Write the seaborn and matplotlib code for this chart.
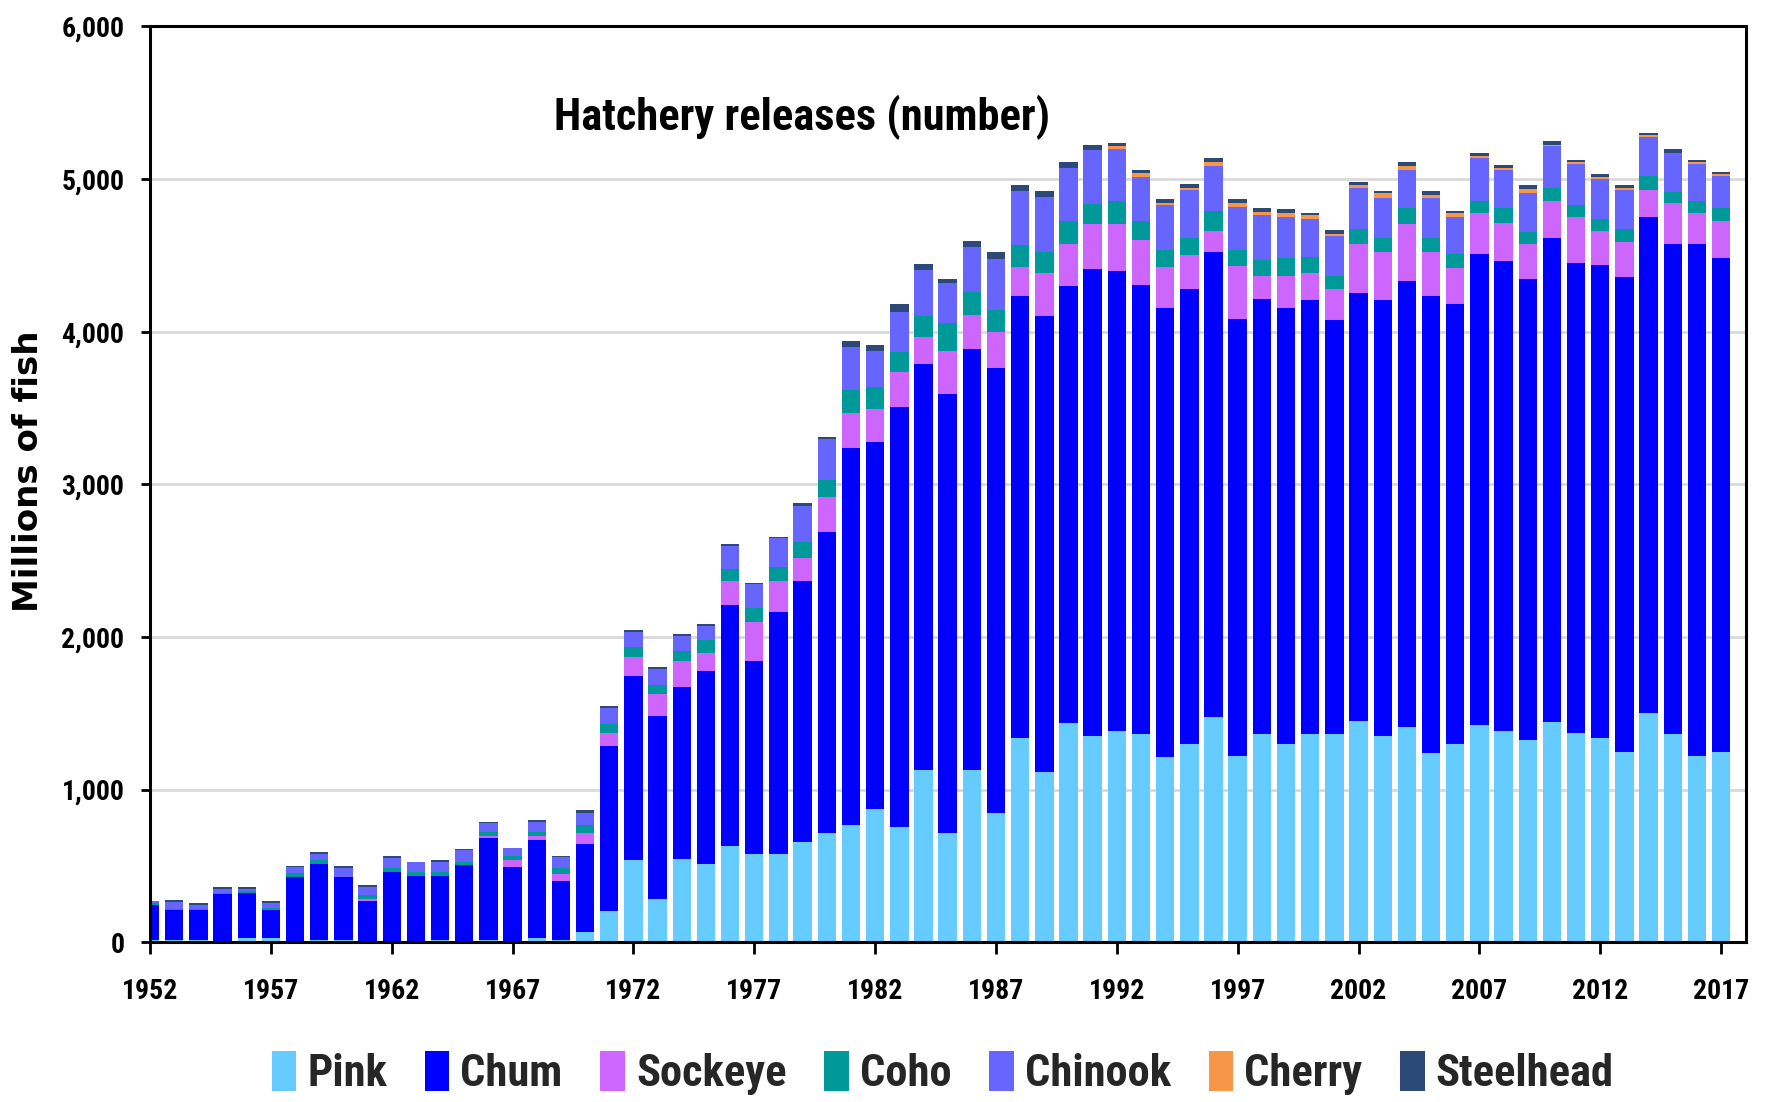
import numpy as np
import pandas as pd
import matplotlib
matplotlib.use("Agg")
import matplotlib.pyplot as plt
import matplotlib.font_manager as fm
from matplotlib.patches import Patch
from matplotlib.ticker import FuncFormatter
import seaborn as sns

years = list(range(1952, 2018))

pink = [15, 15, 15, 3, 28, 28, 3, 15, 15, 0, 3, 0, 15, 0, 15, 0, 28, 15, 66, 206,
        540, 285, 546, 513, 630, 580, 576, 657, 714, 771, 871, 757, 1129, 714, 1129, 848,
        1336, 1117, 1436, 1350, 1387, 1361, 1211, 1297, 1474, 1218, 1361, 1297, 1361, 1361,
        1447, 1350, 1410, 1237, 1297, 1425, 1387, 1323, 1440, 1372, 1335, 1244, 1500, 1361,
        1218, 1244]
chum = [232, 193, 193, 310, 295, 180, 423, 499, 411, 273, 460, 437, 422, 503, 667, 492,
        639, 383, 579, 1077, 1203, 1199, 1129, 1266, 1581, 1263, 1585, 1712, 1973, 2465,
        2409, 2747, 2660, 2881, 2760, 2914, 2898, 2988, 2861, 3060, 3011, 2944, 2943, 2985,
        3049, 2868, 2853, 2857, 2846, 2718, 2805, 2857, 2925, 2996, 2883, 3086, 3075, 3023,
        3173, 3075, 3101, 3113, 3252, 3214, 3357, 3241]
sockeye = [0, 0, 0, 0, 0, 0, 0, 0, 0, 11, 0, 0, 0, 0, 11, 48, 26, 50, 72, 87, 127, 141,
           168, 114, 158, 257, 204, 150, 231, 231, 211, 231, 178, 281, 218, 238, 188, 282,
           278, 293, 305, 297, 267, 218, 139, 346, 154, 214, 180, 203, 323, 316, 368, 290,
           237, 267, 252, 229, 244, 305, 226, 229, 177, 267, 203, 241]
coho = [8, 11, 11, 11, 15, 13, 26, 26, 0, 26, 24, 26, 26, 22, 28, 26, 26, 39, 52, 61, 64,
        60, 67, 84, 77, 88, 91, 104, 110, 154, 144, 131, 137, 178, 154, 144, 143, 136, 151,
        135, 154, 124, 113, 113, 131, 102, 102, 114, 102, 86, 98, 90, 105, 90, 94, 79, 94,
        79, 87, 75, 75, 87, 94, 75, 79, 82]
chinook = [15, 44, 28, 26, 11, 37, 39, 39, 61, 50, 63, 61, 61, 79, 61, 48, 68, 74, 77, 105,
           100, 107, 97, 97, 150, 157, 191, 235, 272, 282, 241, 265, 298, 268, 292, 335, 357,
           360, 349, 350, 342, 289, 297, 316, 290, 282, 297, 271, 252, 256, 267, 263, 252,
           263, 241, 278, 252, 256, 270, 275, 263, 256, 251, 256, 245, 215]
cherry = [0] * 40 + [19, 23, 15, 15, 30, 26, 15, 26, 22, 19, 19, 30, 26, 19, 26, 15, 15, 26,
                     12, 11, 11, 15, 15, 0, 11, 11]
steelhead = [3, 11, 11, 15, 15, 15, 11, 15, 15, 15, 13, 4, 17, 4, 4, 4, 11, 7, 17, 13, 12,
             10, 10, 10, 10, 10, 10, 20, 10, 37, 40, 53, 40, 26, 40, 40, 38, 38, 38, 38, 19,
             22, 22, 26, 22, 26, 26, 26, 15, 22, 22, 15, 27, 26, 15, 23, 19, 23, 22, 11, 23,
             15, 12, 26, 11, 11]

species = ["Pink", "Chum", "Sockeye", "Coho", "Chinook", "Cherry", "Steelhead"]
colors = ["#66CCFF", "#0000FF", "#CC66FF", "#009999", "#6666FF", "#F79646", "#2C4A78"]
tick_years = list(range(1952, 2018, 5))

series = [pink, chum, sockeye, coho, chinook, cherry, steelhead]
df = pd.DataFrame({"Year": [str(y) for y in years]})
for name, vals in zip(species, series):
    df[name] = vals

sns.set_theme(style="white")

available = {f.name for f in fm.fontManager.ttflist}
narrow = "Liberation Sans"
for cand in ["Roboto Condensed", "Liberation Sans Narrow", "DejaVu Sans Condensed",
             "Open Sans Condensed", "Noto Sans Condensed"]:
    if cand in available:
        narrow = cand
        break
plt.rcParams["font.family"] = [narrow, "DejaVu Sans"]

fig = plt.figure(figsize=(17.72, 11.02), dpi=100)
ax = fig.add_axes([0.0847, 0.145, 0.9006, 0.831])

cum = df[species].cumsum(axis=1)
for i in range(len(species) - 1, -1, -1):
    sns.barplot(x=df["Year"], y=cum[species[i]], color=colors[i], width=0.76,
                saturation=1, errorbar=None, ax=ax, linewidth=0, zorder=2)

ax.set_ylim(0, 6000)
ax.set_yticks(range(0, 6001, 1000))
ax.yaxis.set_major_formatter(FuncFormatter(lambda v, p: f"{int(v):,}"))
ax.set_xticks([years.index(y) for y in tick_years])
ax.set_xticklabels([str(y) for y in tick_years])
ax.set_xlim(0, 66.03)
ax.set_xlabel("")
ax.set_ylabel("")

ax.set_axisbelow(True)
ax.yaxis.grid(True, color="#D9D9D9", linewidth=2)
ax.xaxis.grid(False)
for sp in ax.spines.values():
    sp.set_color("black")
    sp.set_linewidth(2.2)
    sp.set_visible(True)

ax.tick_params(axis="both", direction="out", width=2, color="black",
               bottom=True, left=True)
ax.tick_params(axis="x", length=8.6, pad=17)
ax.tick_params(axis="y", length=6.5, pad=12)
for lab in ax.get_xticklabels() + ax.get_yticklabels():
    lab.set_fontsize(20)
    lab.set_fontweight("bold")
    lab.set_color("black")

ax.text(0.4085, 0.9005, "Hatchery releases (number)", transform=ax.transAxes,
        ha="center", va="center", fontsize=32, fontweight="bold", color="black")

fig.text(0.0160, 0.572, "Millions of fish", rotation=90, ha="center", va="center",
         fontsize=24.5, fontweight="bold", color="black", family="DejaVu Sans")

handles = [Patch(facecolor=c, edgecolor="none", label=s) for s, c in zip(species, colors)]
fig.legend(handles=handles, loc="center", bbox_to_anchor=(0.532, 0.026), ncol=7,
           frameon=False, prop={"size": 32, "weight": "bold"}, handlelength=0.55,
           handleheight=1.0, handletextpad=0.25, columnspacing=0.85, borderaxespad=0)

fig.savefig("out.png", dpi=100)
